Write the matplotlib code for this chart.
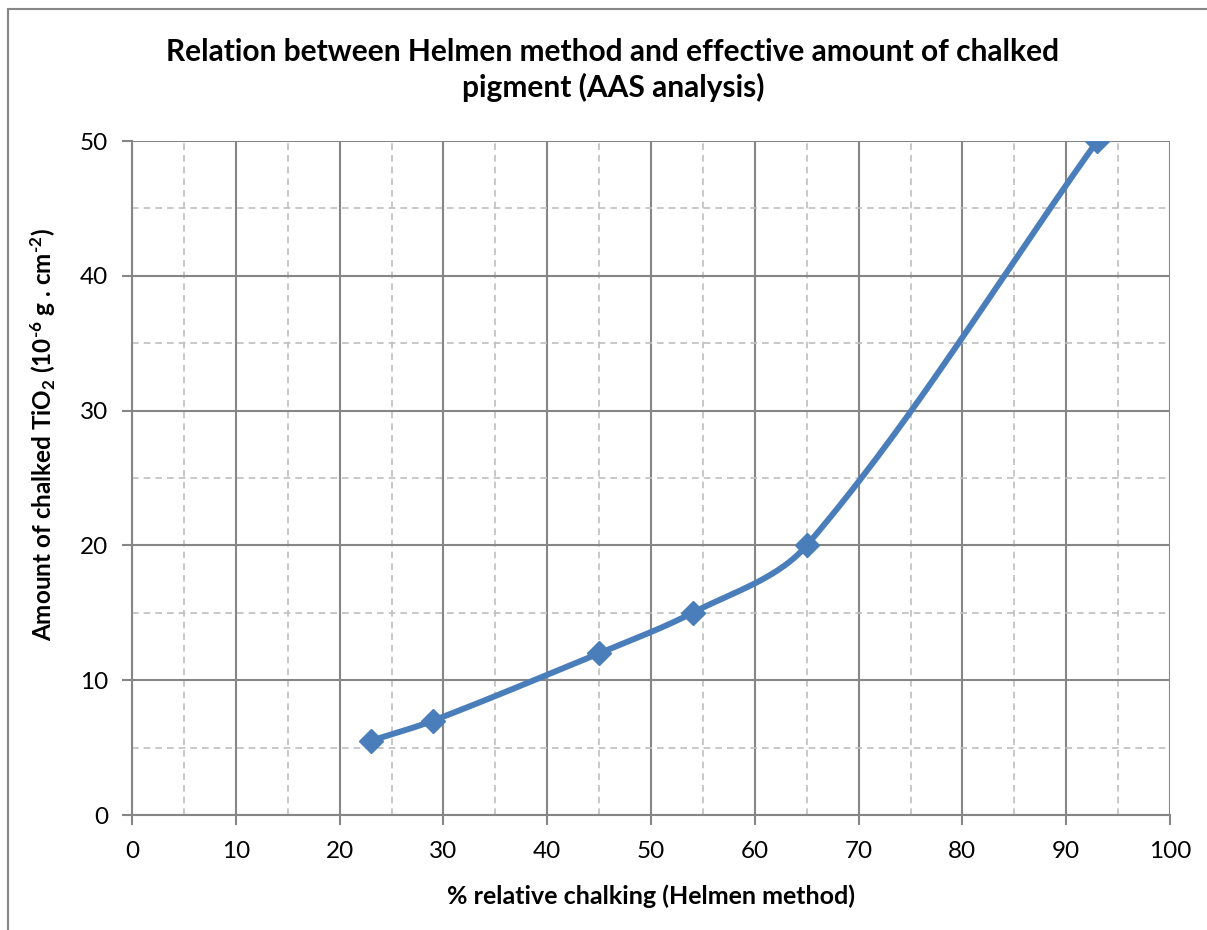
import numpy as np
import matplotlib.pyplot as plt
from matplotlib.patches import Rectangle

plt.rcParams['font.family'] = ['Lato', 'DejaVu Sans']
plt.rcParams['mathtext.fontset'] = 'custom'
plt.rcParams['mathtext.rm'] = 'Lato:bold'
plt.rcParams['mathtext.default'] = 'rm'

chalking = [23, 29, 45, 54, 65, 93]
tio2 = [5.5, 7, 12, 15, 20, 50]

title = 'Relation between Helmen method and effective amount of chalked\npigment (AAS analysis)'
xlabel = '% relative chalking (Helmen method)'
ylabel = r'Amount of chalked TiO$_{2}$ (10$^{\text{-6}}$ g . cm$^{\text{-2}}$)'

AX_W, AX_H = 1038, 674


def smooth(xs, ys, n=60):
    # bezier segments, tangents scaled by chord length (done in pixel space)
    p = np.column_stack([np.asarray(xs) * AX_W / 100, np.asarray(ys) * AX_H / 50]).astype(float)
    pts = []
    for i in range(len(p) - 1):
        p0 = p[i - 1] if i > 0 else p[i]
        p1, p2 = p[i], p[i + 1]
        p3 = p[i + 2] if i + 2 < len(p) else p[i + 1]
        d = np.linalg.norm(p2 - p1)
        t1 = (p2 - p0) / np.linalg.norm(p2 - p0)
        t2 = (p3 - p1) / np.linalg.norm(p3 - p1)
        c1 = p1 + t1 * d / 3
        c2 = p2 - t2 * d / 3
        t = np.linspace(0, 1, n)[:, None]
        seg = (1 - t) ** 3 * p1 + 3 * (1 - t) ** 2 * t * c1 + 3 * (1 - t) * t ** 2 * c2 + t ** 3 * p2
        pts.append(seg)
    pts = np.vstack(pts)
    return pts[:, 0] * 100 / AX_W, pts[:, 1] * 50 / AX_H


fig = plt.figure(figsize=(12.07, 9.30), dpi=100)
ax = fig.add_axes([132 / 1207, 115 / 930, AX_W / 1207, AX_H / 930])

sx, sy = smooth(chalking, tio2)
ax.plot(sx, sy, color='#4A7EBB', lw=4.3, solid_capstyle='round', zorder=3)
ax.plot(chalking, tio2, 'D', color='#4A7EBB', ms=12, zorder=4)

ax.set_xlim(0, 100)
ax.set_ylim(0, 50)
ax.set_xticks(np.arange(0, 101, 10))
ax.set_yticks(np.arange(0, 51, 10))
ax.set_xticks(np.arange(5, 100, 10), minor=True)
ax.set_yticks(np.arange(5, 50, 10), minor=True)
ax.grid(which='major', color='#868686', lw=1.5)
ax.grid(which='minor', color='#BFBFBF', lw=1.2, ls=(0, (4, 3)))
ax.set_axisbelow(True)
ax.tick_params(which='major', length=7, width=1.5, color='#868686', labelsize=17.5)
ax.tick_params(axis='x', pad=12)
ax.tick_params(axis='y', pad=10)
ax.tick_params(which='minor', length=0)
for s in ['top', 'right']:
    ax.spines[s].set_visible(False)
for s in ['left', 'bottom']:
    ax.spines[s].set_color('#868686')
    ax.spines[s].set_linewidth(1.5)

ax.set_xlabel(xlabel, fontsize=18, fontweight='bold', labelpad=16)
ax.set_ylabel(ylabel, fontsize=17.5, fontweight='bold')
ax.yaxis.set_label_coords(-0.071, 0.564)
fig.text(613 / 1207, 1 - 70 / 930, title, ha='center', va='center', fontsize=21.5,
         fontweight='bold', linespacing=1.25)

fig.patches.append(Rectangle((8 / 1207, -0.1), 1.2, (930 - 9) / 930 + 0.1, transform=fig.transFigure,
                             fill=False, edgecolor='#868686', lw=1.5))

fig.savefig('out.png', dpi=100)
